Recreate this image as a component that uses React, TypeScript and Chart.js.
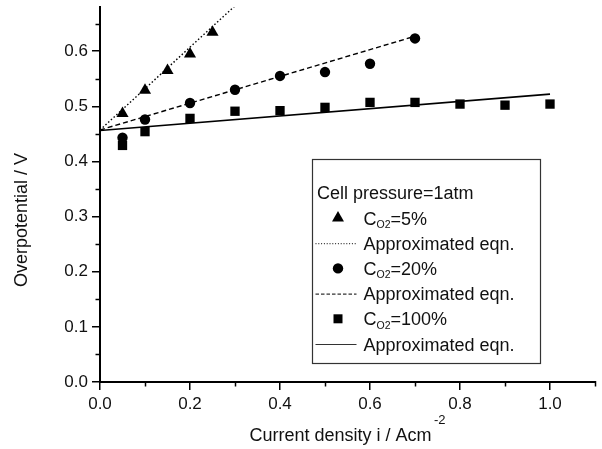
import React, { useEffect, useRef } from 'react';
import { Chart, registerables } from 'chart.js';

Chart.register(...registerables);

// ---- data ----
const x5 = [0.05, 0.1, 0.15, 0.2, 0.25];
const y5 = [0.487, 0.529, 0.565, 0.595, 0.634];

const x20 = [0.05, 0.1, 0.2, 0.3, 0.4, 0.5, 0.6, 0.7];
const y20 = [0.443, 0.476, 0.506, 0.530, 0.555, 0.562, 0.577, 0.623];

const x100 = [0.05, 0.1, 0.2, 0.3, 0.4, 0.5, 0.6, 0.7, 0.8, 0.9, 1.0];
const y100 = [0.429, 0.454, 0.478, 0.491, 0.492, 0.498, 0.507, 0.507, 0.504, 0.502, 0.504];

// approximated equations (end points of the straight lines)
const fitX5 = [0, 0.3];
const fitY5 = [0.457, 0.682];
const fitX20 = [0, 0.7];
const fitY20 = [0.457, 0.627];
const fitX100 = [0, 1.0];
const fitY100 = [0.456, 0.522];

// ticks
const xMajorTicks = [0, 0.2, 0.4, 0.6, 0.8, 1.0];
const xMinorTicks = [0.1, 0.3, 0.5, 0.7, 0.9, 1.1];
const yMajorTicks = [0, 0.1, 0.2, 0.3, 0.4, 0.5, 0.6];
const yMinorTicks = [0.05, 0.15, 0.25, 0.35, 0.45, 0.55, 0.65];

// texts
const xTitle = 'Current density i / Acm';
const xTitleSup = '-2';
const yTitle = 'Overpotential / V';
const legendTitle = 'Cell pressure=1atm';
const legendRows = [
  { kind: 'triangle', sub: 'O2', rest: '=5%' },
  { kind: 'dotted', text: 'Approximated eqn.' },
  { kind: 'circle', sub: 'O2', rest: '=20%' },
  { kind: 'dashed', text: 'Approximated eqn.' },
  { kind: 'square', sub: 'O2', rest: '=100%' },
  { kind: 'solid', text: 'Approximated eqn.' },
];

const FONT = '"Liberation Sans", Arial, Helvetica, sans-serif';
const INK = '#000';

const toPts = (xs: number[], ys: number[]) => xs.map((x, i) => ({ x, y: ys[i] }));

const decorPlugin = {
  id: 'decor',
  afterDraw(chart: any) {
    const { ctx, chartArea: ca, scales } = chart;
    const xs = scales.x;
    const ys = scales.y;
    ctx.save();

    // minor ticks
    ctx.strokeStyle = INK;
    ctx.lineWidth = 1.5;
    yMinorTicks.forEach((v) => {
      const py = Math.round(ys.getPixelForValue(v)) + 0.5;
      ctx.beginPath();
      ctx.moveTo(ca.left - 4.5, py);
      ctx.lineTo(ca.left, py);
      ctx.stroke();
    });
    xMinorTicks.forEach((v) => {
      const px = Math.round(xs.getPixelForValue(v)) + 0.5;
      ctx.beginPath();
      ctx.moveTo(px, ca.bottom - 1);
      ctx.lineTo(px, ca.bottom + 4.5);
      ctx.stroke();
    });

    // x title with superscript
    ctx.fillStyle = '#111';
    ctx.textBaseline = 'alphabetic';
    ctx.textAlign = 'left';
    ctx.font = `18px ${FONT}`;
    const wMain = ctx.measureText(xTitle).width;
    ctx.font = `13px ${FONT}`;
    const wSup = ctx.measureText(xTitleSup).width;
    const gap = 2.5;
    const total = wMain + gap + wSup;
    const cx = (ca.left + ca.right) / 2;
    const startX = cx - total / 2;
    ctx.font = `18px ${FONT}`;
    ctx.fillText(xTitle, startX, ca.bottom + 59);
    ctx.font = `13px ${FONT}`;
    ctx.fillText(xTitleSup, startX + wMain + gap, ca.bottom + 42);

    // y title
    ctx.save();
    ctx.font = `18px ${FONT}`;
    ctx.translate(ca.left - 73, ca.bottom - 162);
    ctx.rotate(-Math.PI / 2);
    ctx.textAlign = 'center';
    ctx.fillText(yTitle, 0, 0);
    ctx.restore();

    // legend box
    const bx = ca.left + 212.5;
    const by = ca.top + 152.5;
    const bw = 228;
    const bh = 204;
    ctx.fillStyle = '#fff';
    ctx.fillRect(bx, by, bw, bh);
    ctx.strokeStyle = '#333';
    ctx.lineWidth = 1.2;
    ctx.setLineDash([]);
    ctx.strokeRect(bx, by, bw, bh);

    ctx.fillStyle = '#111';
    ctx.font = `18px ${FONT}`;
    ctx.textAlign = 'left';
    ctx.fillText(legendTitle, bx + 4.5, by + 39.5);

    const textX = bx + 51;
    const markX = bx + 25.5;
    legendRows.forEach((row: any, i: number) => {
      const base = by + 65 + i * 25.2;
      const mid = base - 6.5;
      ctx.fillStyle = INK;
      ctx.strokeStyle = INK;
      if (row.kind === 'triangle') {
        const r = 6.9;
        ctx.beginPath();
        ctx.moveTo(markX, mid - r);
        ctx.lineTo(markX + r * Math.sin((2 * Math.PI) / 3), mid - r * Math.cos((2 * Math.PI) / 3));
        ctx.lineTo(markX + r * Math.sin((4 * Math.PI) / 3), mid - r * Math.cos((4 * Math.PI) / 3));
        ctx.closePath();
        ctx.fill();
      } else if (row.kind === 'circle') {
        ctx.beginPath();
        ctx.arc(markX, mid, 5.2, 0, Math.PI * 2);
        ctx.fill();
      } else if (row.kind === 'square') {
        ctx.fillRect(markX - 4.5, mid - 4.5, 9, 9);
      } else {
        ctx.lineWidth = 1.2;
        ctx.strokeStyle = '#333';
        if (row.kind === 'dotted') ctx.setLineDash([1, 1.8]);
        else if (row.kind === 'dashed') ctx.setLineDash([3.5, 2]);
        else ctx.setLineDash([]);
        ctx.beginPath();
        ctx.moveTo(bx + 3, mid + 0.5);
        ctx.lineTo(bx + 44, mid + 0.5);
        ctx.stroke();
        ctx.setLineDash([]);
      }
      ctx.fillStyle = '#111';
      if (row.text) {
        ctx.font = `18px ${FONT}`;
        ctx.fillText(row.text, textX, base);
      } else {
        ctx.font = `18px ${FONT}`;
        ctx.fillText('C', textX, base);
        const wc = ctx.measureText('C').width;
        ctx.font = `10.5px ${FONT}`;
        ctx.fillText(row.sub, textX + wc, base + 3.5);
        const ws = ctx.measureText(row.sub).width;
        ctx.font = `18px ${FONT}`;
        ctx.fillText(row.rest, textX + wc + ws, base);
      }
    });

    ctx.restore();
  },
};

export default function App() {
  const ref = useRef<HTMLCanvasElement | null>(null);

  useEffect(() => {
    if (!ref.current) return;
    const tickFont = { family: FONT, size: 17 };
    const chart = new Chart(ref.current, {
      type: 'scatter',
      data: {
        datasets: [
          {
            label: 'fit 5%',
            data: toPts(fitX5, fitY5),
            showLine: true,
            borderColor: INK,
            borderWidth: 1.4,
            borderDash: [1.5, 2.2],
            pointRadius: 0,
          },
          {
            label: 'fit 20%',
            data: toPts(fitX20, fitY20),
            showLine: true,
            borderColor: INK,
            borderWidth: 1.4,
            borderDash: [5, 3],
            pointRadius: 0,
          },
          {
            label: 'fit 100%',
            data: toPts(fitX100, fitY100),
            showLine: true,
            borderColor: INK,
            borderWidth: 1.6,
            pointRadius: 0,
          },
          {
            label: 'CO2=5%',
            data: toPts(x5, y5),
            showLine: false,
            pointStyle: 'triangle',
            pointRadius: 7,
            backgroundColor: INK,
            borderColor: INK,
            borderWidth: 0,
          },
          {
            label: 'CO2=20%',
            data: toPts(x20, y20),
            showLine: false,
            pointStyle: 'circle',
            pointRadius: 5.2,
            backgroundColor: INK,
            borderColor: INK,
            borderWidth: 0,
          },
          {
            label: 'CO2=100%',
            data: toPts(x100, y100),
            showLine: false,
            pointStyle: 'rect',
            pointRadius: 6.6,
            backgroundColor: INK,
            borderColor: INK,
            borderWidth: 0,
          },
        ],
      },
      options: {
        animation: false,
        responsive: true,
        maintainAspectRatio: false,
        layout: { padding: { top: 6, right: 5, left: 0, bottom: 0 } },
        plugins: {
          legend: { display: false },
          tooltip: { enabled: false },
          title: { display: false },
        },
        scales: {
          x: {
            type: 'linear',
            min: 0,
            max: 1.1,
            afterBuildTicks: (s: any) => {
              s.ticks = xMajorTicks.map((v) => ({ value: v }));
            },
            afterFit: (s: any) => {
              s.height = 67;
              s.paddingLeft = 0;
              s.paddingRight = 0;
            },
            grid: {
              display: true,
              drawOnChartArea: false,
              drawTicks: true,
              tickLength: 8,
              color: INK,
              lineWidth: 1.5,
            },
            border: { display: true, color: INK, width: 2 },
            ticks: {
              font: tickFont,
              color: '#111',
              padding: 4,
              maxRotation: 0,
              autoSkip: false,
              callback: (v: any) => Number(v).toFixed(1),
            },
          },
          y: {
            type: 'linear',
            min: 0,
            max: 0.68,
            afterBuildTicks: (s: any) => {
              s.ticks = yMajorTicks.map((v) => ({ value: v }));
            },
            afterFit: (s: any) => {
              s.width = 100;
              s.paddingTop = 0;
              s.paddingBottom = 0;
            },
            grid: {
              display: true,
              drawOnChartArea: false,
              drawTicks: true,
              tickLength: 8,
              color: INK,
              lineWidth: 1.5,
            },
            border: { display: true, color: INK, width: 2 },
            ticks: {
              font: tickFont,
              color: '#111',
              padding: 4,
              autoSkip: false,
              callback: (v: any) => Number(v).toFixed(1),
            },
          },
        },
      },
      plugins: [decorPlugin],
    } as any);
    return () => chart.destroy();
  }, []);

  return (
    <div style={{ position: 'absolute', left: 0, top: 0, width: 602, height: 449, background: '#fff' }}>
      <canvas ref={ref} />
    </div>
  );
}
